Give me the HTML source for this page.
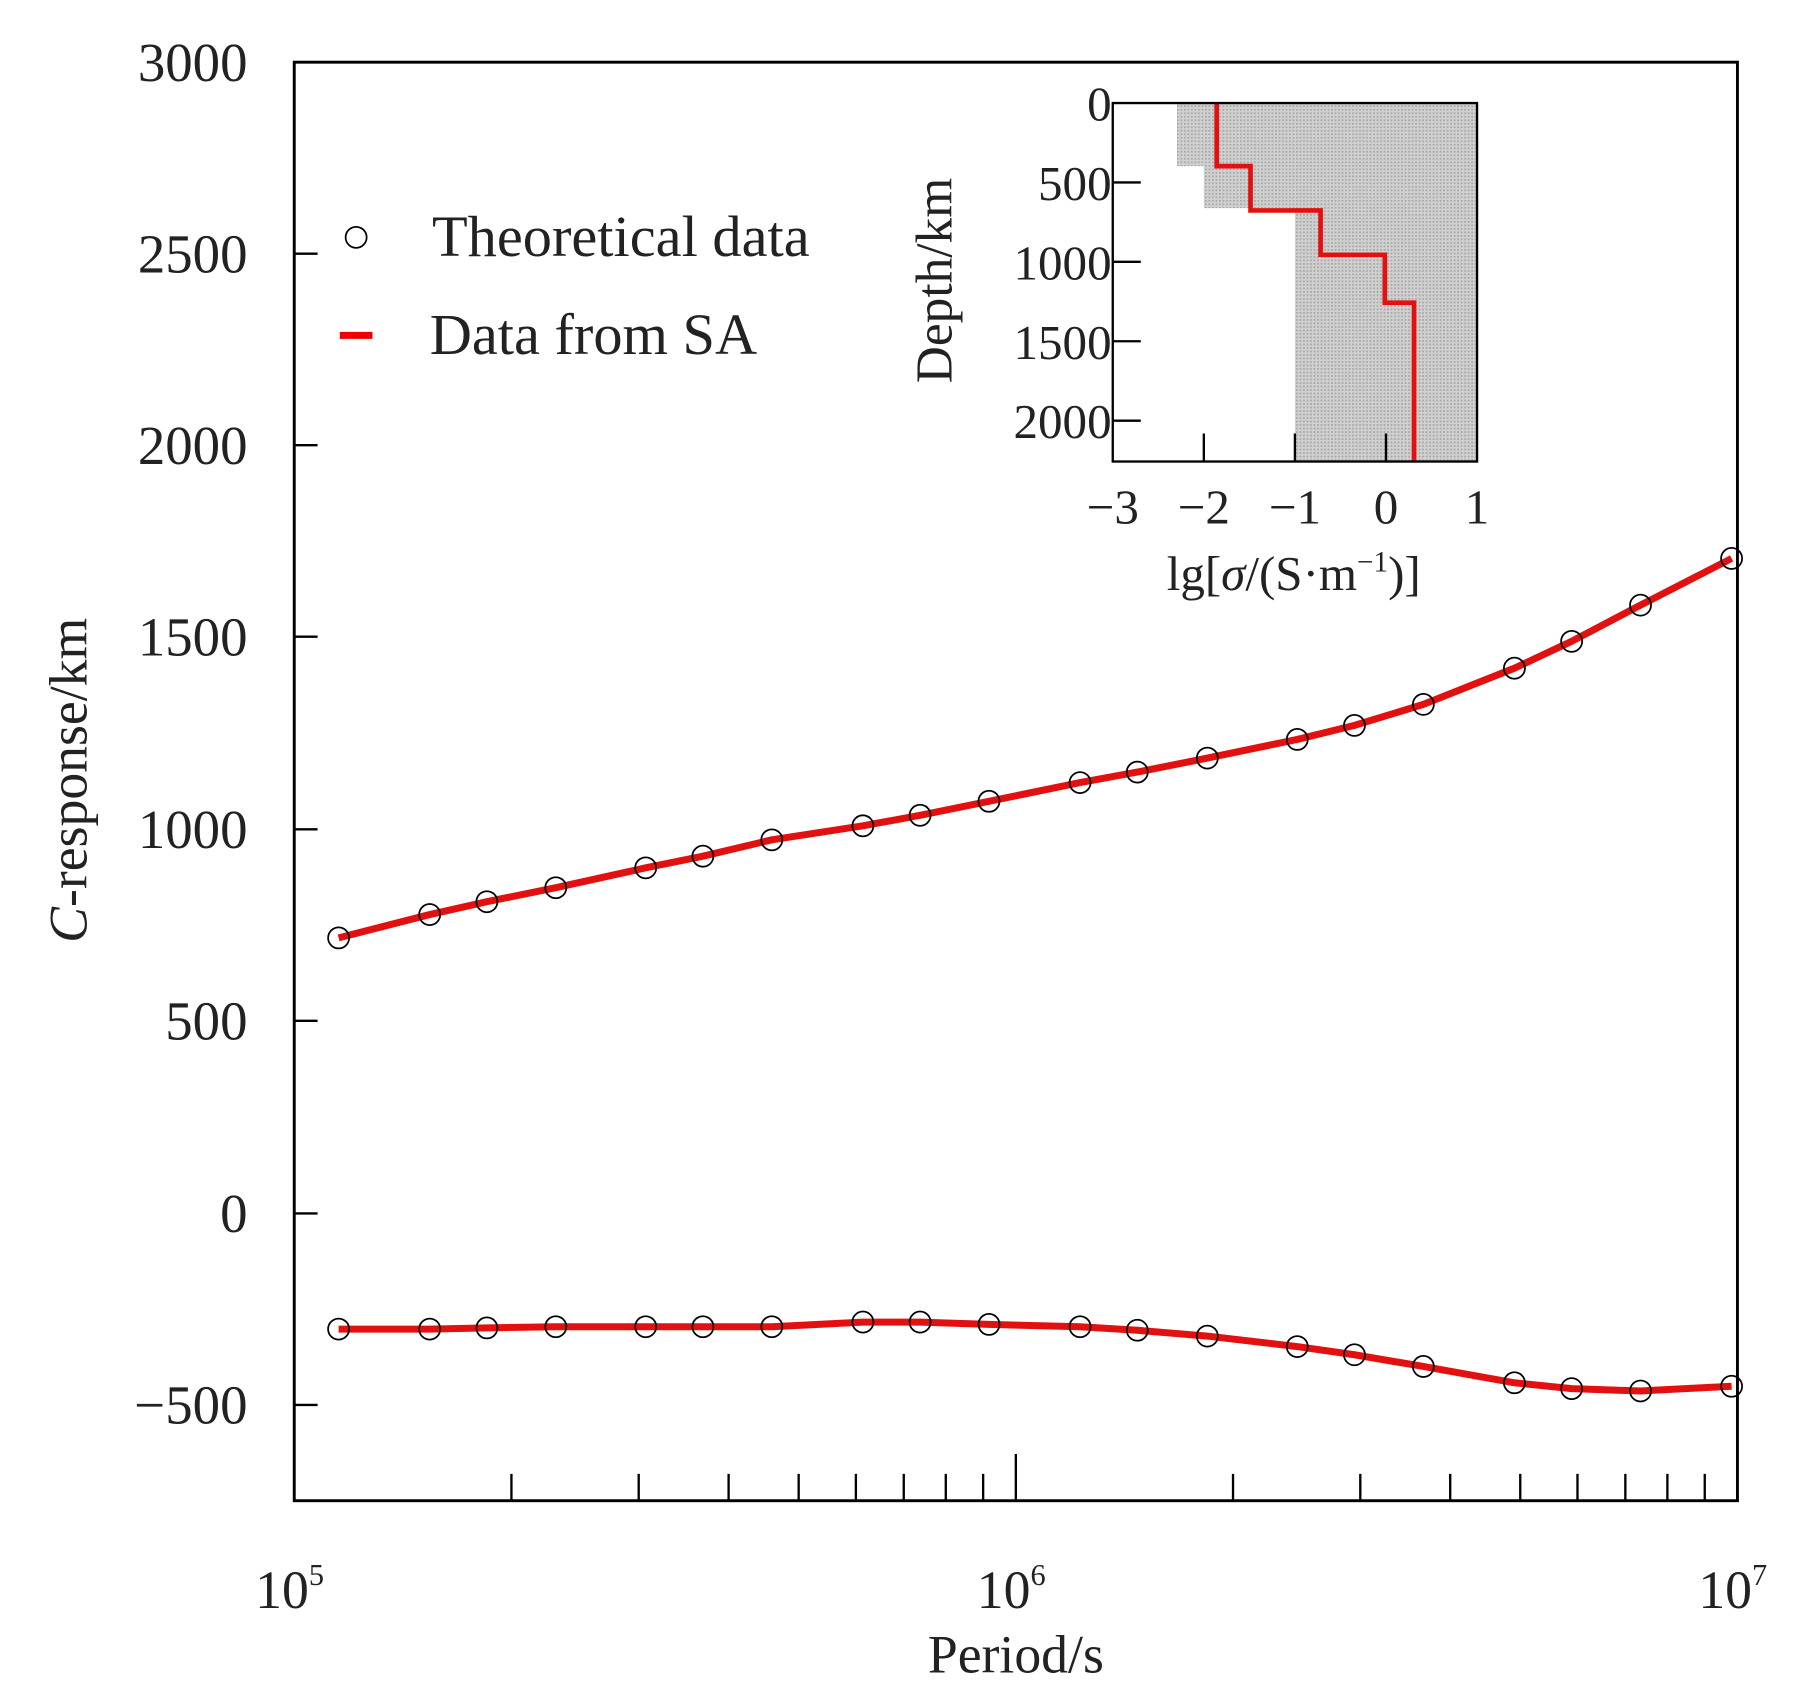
<!DOCTYPE html>
<html><head><meta charset="utf-8"><style>html,body{margin:0;padding:0;background:#fff}svg{display:block}</style></head><body>
<svg width="1804" height="1682" viewBox="0 0 1545 1440" xmlns="http://www.w3.org/2000/svg" font-family="Liberation Serif, serif" fill="#000">
<defs><pattern id="dots" width="3" height="3" patternUnits="userSpaceOnUse"><rect width="3" height="3" fill="#d0d0d0"/><rect width="1.5" height="1.5" fill="#a8a8a8"/></pattern></defs>
<rect x="252" y="53" width="1236" height="1232" fill="none" stroke="#000" stroke-width="2.5"/>
<g stroke="#000" stroke-width="2">
<line x1="252" y1="53" x2="272" y2="53"/><line x1="252" y1="217" x2="272" y2="217"/><line x1="252" y1="381" x2="272" y2="381"/><line x1="252" y1="545" x2="272" y2="545"/><line x1="252" y1="710" x2="272" y2="710"/><line x1="252" y1="874" x2="272" y2="874"/><line x1="252" y1="1039" x2="272" y2="1039"/><line x1="252" y1="1203" x2="272" y2="1203"/>
<line x1="438" y1="1285" x2="438" y2="1262"/><line x1="547" y1="1285" x2="547" y2="1262"/><line x1="624" y1="1285" x2="624" y2="1262"/><line x1="684" y1="1285" x2="684" y2="1262"/><line x1="733" y1="1285" x2="733" y2="1262"/><line x1="774" y1="1285" x2="774" y2="1262"/><line x1="810" y1="1285" x2="810" y2="1262"/><line x1="842" y1="1285" x2="842" y2="1262"/><line x1="870" y1="1285" x2="870" y2="1245"/>
<line x1="1056" y1="1285" x2="1056" y2="1262"/><line x1="1165" y1="1285" x2="1165" y2="1262"/><line x1="1242" y1="1285" x2="1242" y2="1262"/><line x1="1302" y1="1285" x2="1302" y2="1262"/><line x1="1351" y1="1285" x2="1351" y2="1262"/><line x1="1392" y1="1285" x2="1392" y2="1262"/><line x1="1428" y1="1285" x2="1428" y2="1262"/><line x1="1460" y1="1285" x2="1460" y2="1262"/>
</g>
<g font-size="47" text-anchor="end" fill="#222">
<text x="212" y="69">3000</text><text x="212" y="233">2500</text><text x="212" y="397">2000</text><text x="212" y="561">1500</text><text x="212" y="726">1000</text><text x="212" y="890">500</text><text x="212" y="1055">0</text><text x="212" y="1219">−500</text>
</g>
<g font-size="46" text-anchor="middle" fill="#222">
<text x="248" y="1377">10<tspan font-size="26" dy="-20">5</tspan></text>
<text x="866" y="1377">10<tspan font-size="26" dy="-20">6</tspan></text>
<text x="1484" y="1377">10<tspan font-size="26" dy="-20">7</tspan></text>
<text x="870" y="1432">Period/s</text>
</g>
<text transform="translate(74,668) rotate(-90)" font-size="46" text-anchor="middle" fill="#222"><tspan font-style="italic">C</tspan>-response/km</text>
<circle cx="305" cy="203" r="9" fill="none" stroke="#000" stroke-width="1.5"/>
<text x="370" y="219" font-size="50" fill="#222">Theoretical data</text>
<line x1="291" y1="287" x2="319" y2="287" stroke="#e00" stroke-width="6"/>
<text x="368" y="303" font-size="50" fill="#222">Data from SA</text>
<g fill="none" stroke="#e31010" stroke-width="6" stroke-linejoin="round">
<polyline points="290,803 368,783 417,772 476,760 553,743 602,733 661,719 739,707 788,698 847,686 925,670 974,661 1034,649 1111,633 1160,621 1219,603 1297,572 1346,549 1405,518 1483,478"/>
<polyline points="290,1138 368,1138 417,1137 476,1136 553,1136 602,1136 661,1136 739,1132 788,1132 847,1134 925,1136 974,1139 1034,1144 1111,1153 1160,1160 1219,1170 1297,1184 1346,1189 1405,1191 1483,1187"/>
</g>
<g fill="none" stroke="#000" stroke-width="1.5">
<circle cx="290" cy="803" r="9"/><circle cx="368" cy="783" r="9"/><circle cx="417" cy="772" r="9"/><circle cx="476" cy="760" r="9"/><circle cx="553" cy="743" r="9"/><circle cx="602" cy="733" r="9"/><circle cx="661" cy="719" r="9"/><circle cx="739" cy="707" r="9"/><circle cx="788" cy="698" r="9"/><circle cx="847" cy="686" r="9"/><circle cx="925" cy="670" r="9"/><circle cx="974" cy="661" r="9"/><circle cx="1034" cy="649" r="9"/><circle cx="1111" cy="633" r="9"/><circle cx="1160" cy="621" r="9"/><circle cx="1219" cy="603" r="9"/><circle cx="1297" cy="572" r="9"/><circle cx="1346" cy="549" r="9"/><circle cx="1405" cy="518" r="9"/><circle cx="1483" cy="478" r="9"/>
<circle cx="290" cy="1138" r="9"/><circle cx="368" cy="1138" r="9"/><circle cx="417" cy="1137" r="9"/><circle cx="476" cy="1136" r="9"/><circle cx="553" cy="1136" r="9"/><circle cx="602" cy="1136" r="9"/><circle cx="661" cy="1136" r="9"/><circle cx="739" cy="1132" r="9"/><circle cx="788" cy="1132" r="9"/><circle cx="847" cy="1134" r="9"/><circle cx="925" cy="1136" r="9"/><circle cx="974" cy="1139" r="9"/><circle cx="1034" cy="1144" r="9"/><circle cx="1111" cy="1153" r="9"/><circle cx="1160" cy="1160" r="9"/><circle cx="1219" cy="1170" r="9"/><circle cx="1297" cy="1184" r="9"/><circle cx="1346" cy="1189" r="9"/><circle cx="1405" cy="1191" r="9"/><circle cx="1483" cy="1187" r="9"/>
</g>
<polygon points="1008,88 1265,88 1265,395 1109,395 1109,178 1031,178 1031,142 1008,142" fill="url(#dots)"/>
<polyline points="1042,88 1042,142 1071,142 1071,180 1131,180 1131,218 1186,218 1186,259 1211,259 1211,395" fill="none" stroke="#e31010" stroke-width="4"/>
<rect x="953" y="88" width="312" height="307" fill="none" stroke="#000" stroke-width="2"/>
<g stroke="#000" stroke-width="2">
<line x1="953" y1="156" x2="977" y2="156"/><line x1="953" y1="224" x2="977" y2="224"/><line x1="953" y1="292" x2="977" y2="292"/><line x1="953" y1="360" x2="977" y2="360"/>
<line x1="1031" y1="395" x2="1031" y2="371"/><line x1="1109" y1="395" x2="1109" y2="371"/><line x1="1187" y1="395" x2="1187" y2="371"/>
</g>
<g font-size="42" text-anchor="end" fill="#222">
<text x="952" y="103">0</text><text x="952" y="171">500</text><text x="952" y="239">1000</text><text x="952" y="307">1500</text><text x="952" y="375">2000</text>
</g>
<g font-size="42" text-anchor="middle" fill="#222">
<text x="953" y="448">−3</text><text x="1031" y="448">−2</text><text x="1109" y="448">−1</text><text x="1187" y="448">0</text><text x="1265" y="448">1</text>
<text x="1108" y="505">lg[<tspan font-style="italic">σ</tspan>/(S·m<tspan font-size="25" dy="-16">−1</tspan><tspan dy="16">)]</tspan></text>
</g>
<text transform="translate(815,240) rotate(-90)" font-size="44" text-anchor="middle" fill="#222">Depth/km</text>
</svg>
</body></html>
